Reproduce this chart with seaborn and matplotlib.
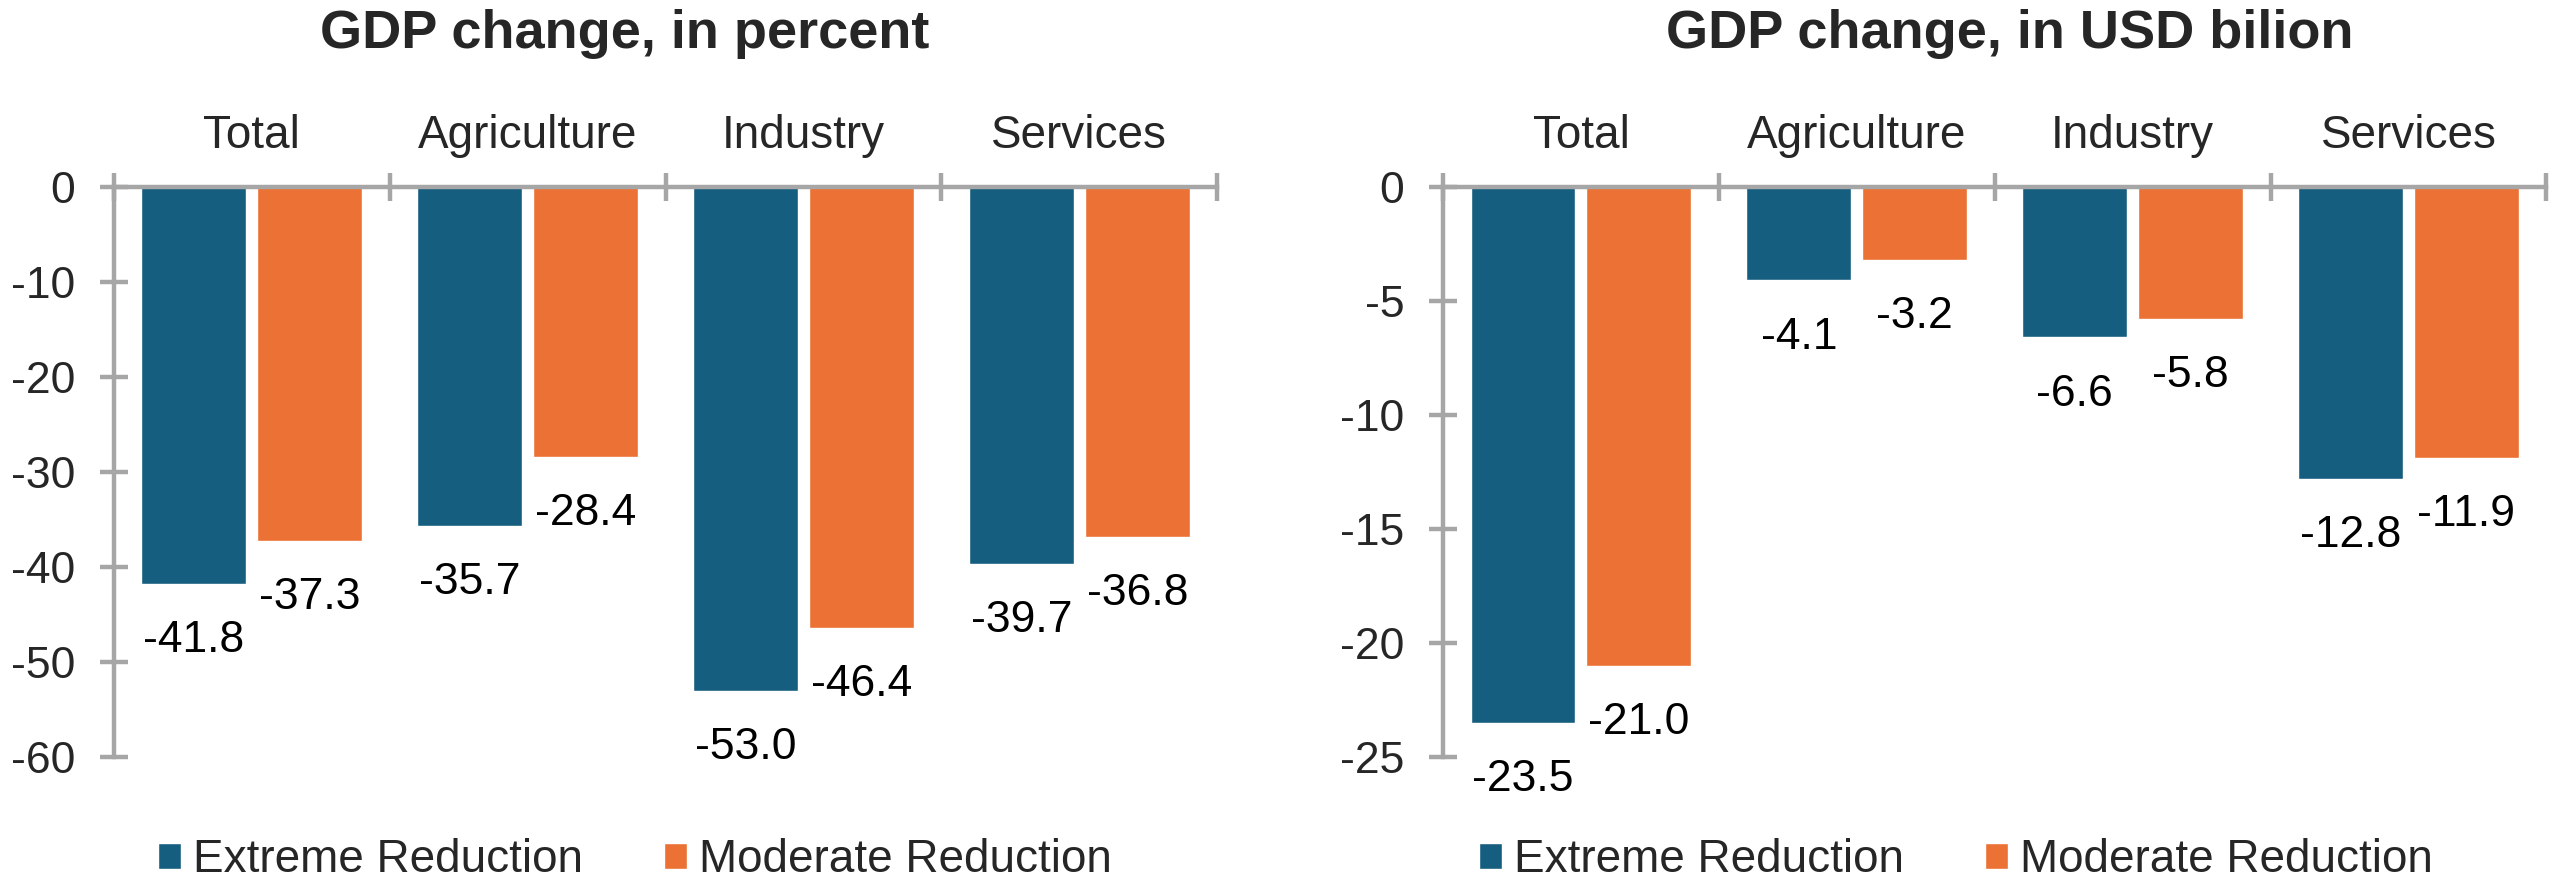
import matplotlib
matplotlib.use("Agg")
import matplotlib.pyplot as plt
import seaborn as sns
import pandas as pd
import numpy as np
from matplotlib.ticker import FixedLocator, FuncFormatter

# ---- data ----
categories = ["Total", "Agriculture", "Industry", "Services"]
series = ["Extreme Reduction", "Moderate Reduction"]
pct_extreme = [-41.8, -35.7, -53.0, -39.7]
pct_moderate = [-37.3, -28.4, -46.4, -36.8]
usd_extreme = [-23.5, -4.1, -6.6, -12.8]
usd_moderate = [-21.0, -3.2, -5.8, -11.9]
pct_yticks = [0, -10, -20, -30, -40, -50, -60]
usd_yticks = [0, -5, -10, -15, -20, -25]
titles = ["GDP change, in percent", "GDP change, in USD bilion"]

sns.set_theme(style="white")
plt.rcParams["font.family"] = ["Liberation Sans", "DejaVu Sans"]

BLUE = "#165E80"
ORANGE = "#EB7234"
GRAY = "#A6A6A6"
palette = {series[0]: BLUE, series[1]: ORANGE}
LW = 3.2


def make_df(ext, mod):
    return pd.DataFrame({
        "category": categories * 2,
        "series": [series[0]] * len(categories) + [series[1]] * len(categories),
        "value": list(ext) + list(mod),
    })


fig = plt.figure(figsize=(25.6, 8.88), dpi=100)
axL = fig.add_axes([0.0445, 0.1475, 0.431, 0.6419])
axR = fig.add_axes([0.5637, 0.1475, 0.431, 0.6419])

panels = [
    (axL, make_df(pct_extreme, pct_moderate), pct_yticks, titles[0], 0.244, 0.248),
    (axR, make_df(usd_extreme, usd_moderate), usd_yticks, titles[1], 0.785, 0.764),
]

for ax, df, yt, title, titx, legx in panels:
    sns.barplot(data=df, x="category", y="value", hue="series", order=categories,
                hue_order=series, palette=palette, width=0.84, gap=0.095,
                saturation=1, ax=ax, errorbar=None)
    handles, labels = ax.get_legend_handles_labels()
    if ax.get_legend() is not None:
        ax.get_legend().remove()
    ax.set_xlim(-0.5, len(categories) - 0.5)
    ax.set_ylim(min(yt), 0)
    ax.set_xlabel("")
    ax.set_ylabel("")

    # value labels below bar ends
    for cont in ax.containers:
        ax.bar_label(cont, labels=[f"{v:.1f}" for v in cont.datavalues],
                     padding=26, fontsize=32, color="black")

    # spines
    for s in ["bottom", "right"]:
        ax.spines[s].set_visible(False)
    for s in ["top", "left"]:
        ax.spines[s].set_visible(True)
        ax.spines[s].set_color(GRAY)
        ax.spines[s].set_linewidth(LW)
        ax.spines[s].set_zorder(5)

    # x axis on top: boundary ticks (major) + category labels (minor)
    ax.xaxis.tick_top()
    ax.xaxis.set_major_locator(FixedLocator(np.arange(-0.5, len(categories), 1.0)))
    ax.xaxis.set_major_formatter(FuncFormatter(lambda v, p: ""))
    ax.xaxis.set_minor_locator(FixedLocator(np.arange(len(categories))))
    ax.xaxis.set_minor_formatter(FuncFormatter(lambda v, p: categories[int(round(v))]))
    ax.tick_params(axis="x", which="major", direction="inout", length=20, width=LW,
                   color=GRAY, top=True, bottom=False)
    ax.tick_params(axis="x", which="minor", length=0, top=True, bottom=False,
                   labeltop=True, labelbottom=False, labelsize=33, pad=21)

    # y axis
    ax.yaxis.set_major_locator(FixedLocator(yt))
    ax.yaxis.set_major_formatter(FuncFormatter(lambda v, p: f"{int(round(v))}"))
    ax.tick_params(axis="y", direction="inout", length=20, width=LW, color=GRAY,
                   left=True, labelsize=32, pad=18)
    ax.grid(False)

    # title
    fig.text(titx, 1 - 48 / 888, title, ha="center", va="baseline",
             fontsize=39, fontweight="bold")

    # legend
    fig.legend(handles, labels, loc="center", bbox_to_anchor=(legx, 0.031),
               ncol=2, frameon=False, fontsize=33, handlelength=0.5,
               handleheight=0.5, handletextpad=0.26, columnspacing=1.77,
               borderaxespad=0, borderpad=0)

fig.savefig("out.png", dpi=100)
